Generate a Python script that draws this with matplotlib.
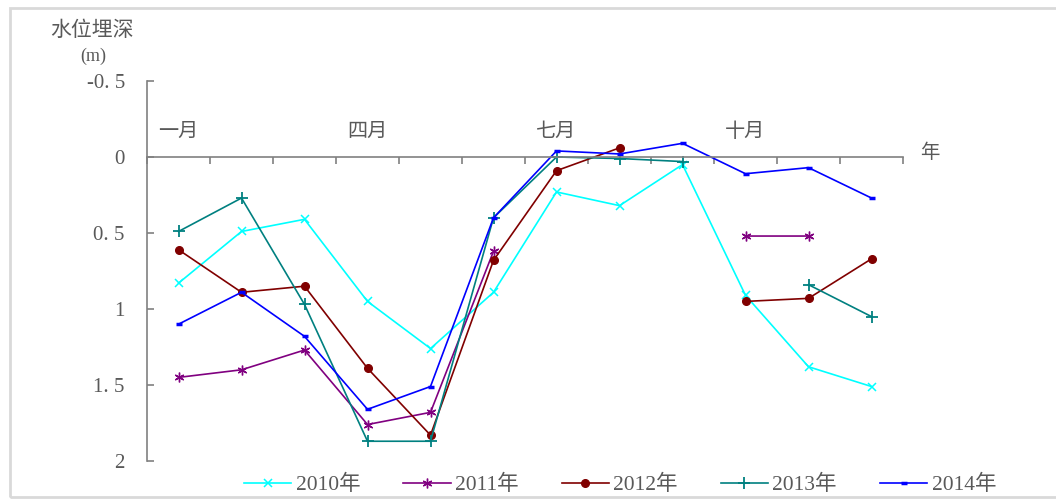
import numpy as np
import matplotlib
matplotlib.use("Agg")
import matplotlib.pyplot as plt
from matplotlib.patches import Rectangle

nan = np.nan
months = ["一月", "二月", "三月", "四月", "五月", "六月", "七月", "八月", "九月", "十月", "十一月", "十二月"]
month_labels_shown = {0: "一月", 3: "四月", 6: "七月", 9: "十月"}
series_names = ["2010年", "2011年", "2012年", "2013年", "2014年"]
y2010 = [0.83, 0.49, 0.41, 0.95, 1.26, 0.89, 0.23, 0.32, 0.05, 0.91, 1.38, 1.51]
y2011 = [1.45, 1.40, 1.27, 1.76, 1.68, 0.62, nan, nan, nan, 0.52, 0.52, nan]
y2012 = [0.61, 0.89, 0.85, 1.39, 1.83, 0.68, 0.09, -0.06, nan, 0.95, 0.93, 0.67]
y2013 = [0.49, 0.27, 0.97, 1.87, 1.87, 0.40, 0.00, 0.01, 0.03, nan, 0.84, 1.05]
y2014 = [1.10, 0.89, 1.18, 1.66, 1.51, 0.40, -0.04, -0.02, -0.09, 0.11, 0.07, 0.27]
yticks = [-0.5, 0, 0.5, 1, 1.5, 2]
ytick_labels = ["-0. 5", "0", "0. 5", "1", "1. 5", "2"]

colors = ["#00FFFF", "#800080", "#800000", "#008080", "#0000FF"]
markers = ["x", (6, 2, 0), "o", "+", "_"]
msizes = [6, 7, 5.5, 8, 5]
mews = [1.1, 1.0, 1.0, 1.3, 2.5]

txt_color = "#595959"
num_font = ["Liberation Serif", "Noto Sans CJK SC"]
cjk_font = ["Noto Sans CJK SC", "DejaVu Sans"]

W, H = 1056, 501
fig = plt.figure(figsize=(W / 100, H / 100), dpi=100)
fig.patch.set_facecolor("white")

# outer frame
fig.patches.append(Rectangle((10 / W, 1 - 497 / H), (W + 20 - 10) / W, (497 - 8) / H,
                             transform=fig.transFigure, fill=False,
                             edgecolor="#d9d9d9", linewidth=2))

x0, x1 = 147, 903
ytop, ybot = 81, 461
ax = fig.add_axes([x0 / W, 1 - ybot / H, (x1 - x0) / W, (ybot - ytop) / H])
ax.set_xlim(0, 12)
ax.set_ylim(2, -0.5)

xs = np.arange(12) + 0.5
for ys, name, c, m, ms, mew in zip([y2010, y2011, y2012, y2013, y2014], series_names,
                                   colors, markers, msizes, mews):
    ax.plot(xs, ys, color=c, marker=m, markersize=ms, markeredgewidth=mew,
            markerfacecolor=c, markeredgecolor=c, linewidth=1.2, label=name)

for s in ["top", "right"]:
    ax.spines[s].set_visible(False)
ax.spines["bottom"].set_position(("data", 0))
ax.spines["bottom"].set_color("#808080")
ax.spines["left"].set_color("#808080")
ax.spines["bottom"].set_linewidth(1.2)
ax.spines["left"].set_linewidth(1.2)

ax.set_xticks(np.arange(0, 13))
ax.set_xticklabels([])
ax.tick_params(axis="x", direction="out", length=5, color="#808080", width=1.2)
ax.set_yticks(yticks)
ax.set_yticklabels(ytick_labels, family=num_font, fontsize=15, color=txt_color)
ax.tick_params(axis="y", direction="in", length=5, color="#808080", width=1.2, pad=16)

for i, lab in month_labels_shown.items():
    ax.text(i + 0.5, -0.17, lab, ha="center", va="center", fontsize=14.5,
            family=cjk_font, color=txt_color)
ax.text(12.43, -0.03, "年", ha="center", va="center", fontsize=14,
        family=cjk_font, color=txt_color, clip_on=False)

fig.text(92 / W, 1 - 30 / H, "水位埋深", ha="center", va="center", fontsize=15,
         family=cjk_font, color=txt_color)
fig.text(93 / W, 1 - 56 / H, "(m)", ha="center", va="center", fontsize=13,
         family=num_font, color=txt_color)

handles, labels = ax.get_legend_handles_labels()
leg = fig.legend(handles, labels, loc="center", bbox_to_anchor=(620 / W, 1 - 485 / H),
                 ncol=5, frameon=False, handlelength=2.2, columnspacing=2.0,
                 handletextpad=0.2, prop={"family": num_font, "size": 15.5})
for t in leg.get_texts():
    t.set_color(txt_color)

fig.savefig("out.png", dpi=100)
